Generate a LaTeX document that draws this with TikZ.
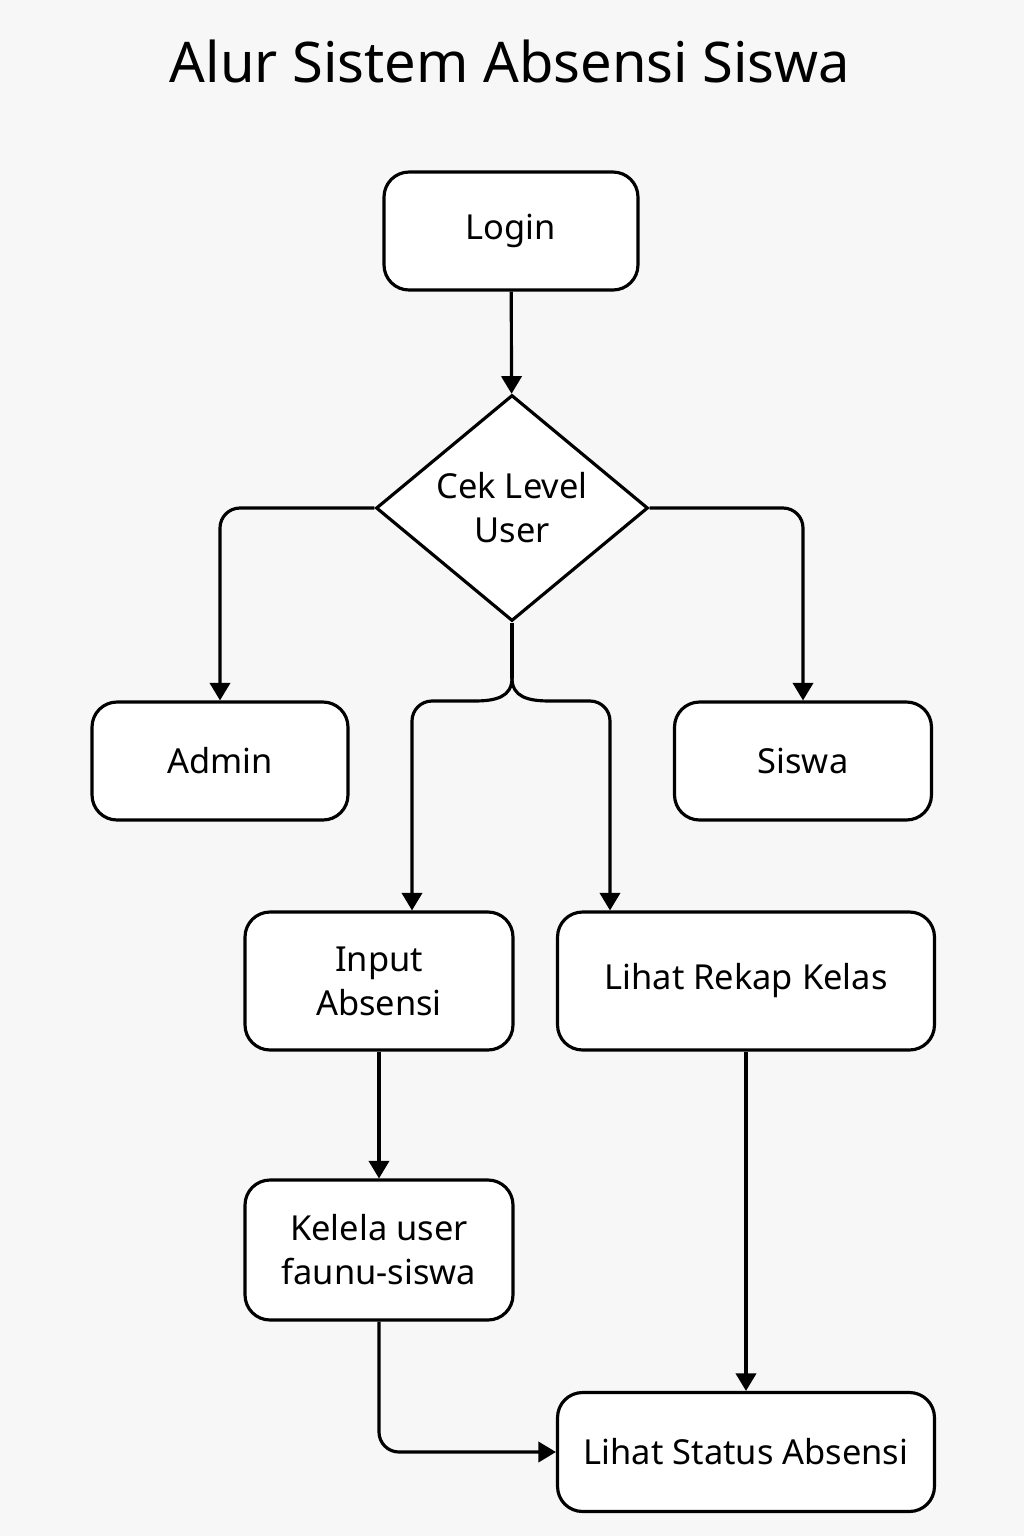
\documentclass[tikz,border=0pt]{standalone}
\usepackage{fontspec}
\setmainfont{Noto Sans}
\usetikzlibrary{shapes.geometric}
\usetikzlibrary{arrows.meta}

\definecolor{bgcol}{HTML}{F7F7F7}

\tikzset{
  box/.style={draw, line width=1.8pt, rounded corners=0.5cm, fill=white, align=center,
    font=\fontsize{19.6}{25}\selectfont, inner sep=0pt},
  decision/.style={draw, diamond, line width=1.8pt, fill=white, align=center,
    font=\fontsize{19.6}{25}\selectfont, inner sep=0pt, aspect=1.2,
    minimum width=5.44cm, minimum height=4.52cm},
  arr/.style={line width=1.8pt, -{Triangle[length=10pt,width=11.5pt]}, rounded corners=0.4cm},
  plain/.style={line width=1.8pt}
}

\begin{document}
\begin{tikzpicture}[x=0.02cm, y=-0.02cm]
      \fill[bgcol] (0,0) rectangle (1024,1536);
      \useasboundingbox (0,0) rectangle (1024,1536);

      \node[anchor=base, font=\fontsize{31.9}{38}\selectfont] (title) at (510,82) {Alur Sistem Absensi Siswa};

      \node[box, minimum width=5.08cm, minimum height=2.36cm] (login) at (511,231) {Login};
      \node[decision] (cek) at (512,508) {Cek Level\\User};
      \node[box, minimum width=5.12cm, minimum height=2.36cm] (admin) at (220,761) {Admin};
      \node[box, minimum width=5.14cm, minimum height=2.36cm] (siswa) at (803,761) {Siswa};
      \node[box, minimum width=5.36cm, minimum height=2.76cm] (input) at (379,981) {Input\\Absensi};
      \node[box, minimum width=7.54cm, minimum height=2.76cm] (rekap) at (746,981) {Lihat Rekap Kelas};
      \node[box, minimum width=5.36cm, minimum height=2.80cm] (kelela) at (379,1250) {Kelela user\\faunu-siswa};
      \node[box, minimum width=7.54cm, minimum height=2.38cm] (status) at (746,1452) {Lihat Status Absensi};

      \coordinate (split) at (512,678);
      \coordinate (inL) at (412,701);
      \coordinate (rkR) at (610,701);

      \draw[arr] (login) -- (cek);
      \draw[arr] (cek.west) -| (admin);
      \draw[arr] (cek.east) -| (siswa);
      \draw[plain] (cek.south) -- (split);
      \draw[plain] (split) .. controls (512,697) and (496,701) .. (474,701);
      \draw[plain] (split) .. controls (512,697) and (528,701) .. (550,701);
      \draw[arr] (474,701) -- (inL) -- (inL |- input.north);
      \draw[arr] (550,701) -- (rkR) -- (rkR |- rekap.north);
      \draw[arr] (input) -- (kelela);
      \draw[arr] (rekap.south) -- (rekap.south |- status.north);
      \draw[arr] (kelela.south) |- (status.west);
\end{tikzpicture}
\end{document}
